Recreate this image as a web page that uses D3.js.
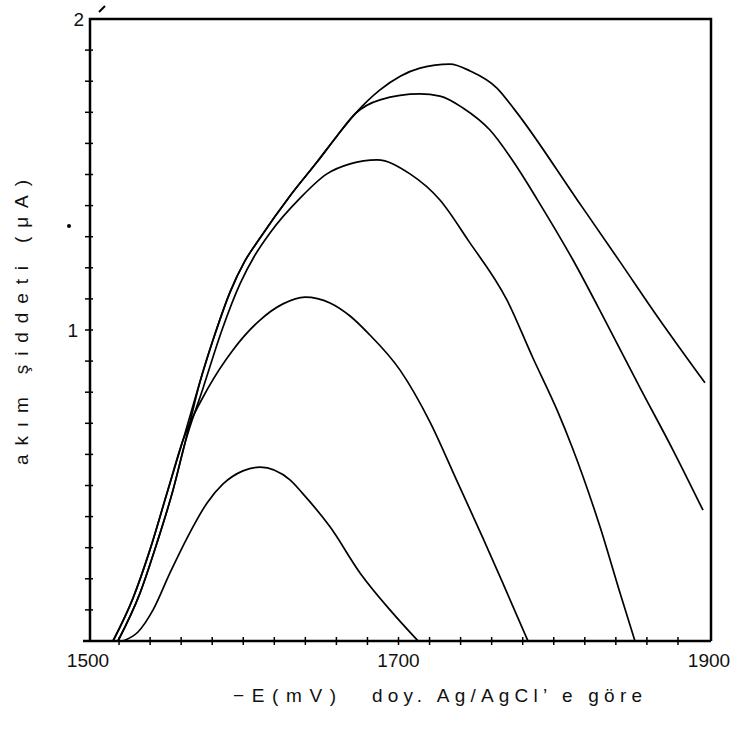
<!DOCTYPE html>
<html>
<head>
    <meta charset="UTF-8">
    <style>
        body { margin: 0; background: #fff; }
        text { font-family: "Liberation Sans", "DejaVu Sans", sans-serif; fill: #111; }
    </style>
</head>
<body>
    <svg id="chart"></svg>
    <script src="https://d3js.org/d3.v7.min.js"></script>
    <script>
        let width = 734, height = 748;

        // potential (-mV) and current (uA)
        const curveA = [[1516.1, 0], [1529.0, 0.138], [1539.9, 0.293], [1550.9, 0.476], [1561.2, 0.646], [1572.1, 0.833], [1581.8, 0.987], [1591.5, 1.122], [1601.1, 1.222], [1610.8, 1.296], [1630.1, 1.431], [1647.5, 1.540], [1660.4, 1.624], [1672.0, 1.695], [1688.1, 1.772], [1713.8, 1.842], [1733.2, 1.855], [1746.1, 1.833], [1763.4, 1.778], [1775.0, 1.707], [1815.6, 1.415], [1842.7, 1.219], [1866.5, 1.045], [1897.4, 0.830]];
        const curveB = [[1519.3, 0], [1533.5, 0.154], [1544.4, 0.315], [1554.8, 0.486], [1562.5, 0.637], [1572.1, 0.833], [1581.8, 0.987], [1591.5, 1.122], [1601.1, 1.222], [1610.8, 1.296], [1630.1, 1.431], [1647.5, 1.540], [1660.4, 1.624], [1672.0, 1.695], [1688.1, 1.740], [1713.8, 1.759], [1726.7, 1.752], [1741.5, 1.714], [1758.9, 1.643], [1776.3, 1.524], [1789.2, 1.421], [1812.4, 1.225], [1834.3, 1.019], [1855.6, 0.814], [1876.8, 0.614], [1896.1, 0.421]];
        const curveC = [[1519.3, 0], [1533.5, 0.154], [1544.4, 0.315], [1554.8, 0.486], [1562.5, 0.637], [1574.1, 0.813], [1586.3, 1.000], [1597.9, 1.148], [1607.6, 1.241], [1617.2, 1.312], [1636.6, 1.424], [1653.9, 1.502], [1668.8, 1.534], [1686.2, 1.547], [1707.4, 1.502], [1726.7, 1.418], [1744.8, 1.289], [1769.9, 1.096], [1786.6, 0.910], [1802.1, 0.743], [1811.8, 0.624], [1829.8, 0.367], [1842.7, 0.154], [1852.3, 0]];
        const curveD = [[1516.1, 0], [1529.0, 0.138], [1539.9, 0.293], [1550.9, 0.476], [1561.2, 0.646], [1577.3, 0.813], [1593.4, 0.936], [1610.8, 1.032], [1625.6, 1.084], [1639.8, 1.106], [1655.9, 1.087], [1668.8, 1.045], [1680.4, 0.990], [1701.0, 0.871], [1720.3, 0.704], [1737.7, 0.514], [1754.4, 0.331], [1768.6, 0.170], [1783.4, 0]];
        const curveE = [[1522.5, 0], [1532.2, 0.029], [1541.9, 0.100], [1552.8, 0.219], [1563.8, 0.331], [1576.7, 0.444], [1587.0, 0.505], [1599.8, 0.547], [1610.8, 0.559], [1630.1, 0.518], [1638.5, 0.473], [1655.9, 0.367], [1675.2, 0.219], [1694.5, 0.100], [1712.6, 0]];

        const xTickLabels = [1500, 1700, 1900];
        const yTickLabels = [1, 2];

        const xLabelLeft = "\u2212E(mV)";
        const xLabelRight = "doy. Ag/AgCl\u2019 e göre";
        const yLabel = "akım şiddeti (μA)";

        let svg = d3.select("#chart")
            .attr("width", width)
            .attr("height", height);

        const plotL = 90, plotR = 711, plotT = 19, plotB = 641;

        let x = d3.scaleLinear().domain([1500, 1900]).range([88, 709]);
        let y = d3.scaleLinear().domain([0, 2]).range([plotB, plotT]);

        // frame
        svg.append("path")
            .attr("d", `M${plotL},${plotB}V${plotT}H${plotR}V${plotB}`)
            .attr("fill", "none")
            .attr("stroke", "#000")
            .attr("stroke-width", 2.5);
        svg.append("line")
            .attr("x1", plotL - 7).attr("x2", plotR)
            .attr("y1", plotB).attr("y2", plotB)
            .attr("stroke", "#000").attr("stroke-width", 2.5);

        // minor ticks crossing the axes
        svg.append("g")
            .selectAll("line")
            .data(d3.range(1, 20).map(d => d / 10))
            .enter()
            .append("line")
            .attr("x1", plotL - 5).attr("x2", plotL + 3)
            .attr("y1", d => y(d)).attr("y2", d => y(d))
            .attr("stroke", "#000").attr("stroke-width", 1.5);

        svg.append("g")
            .selectAll("line")
            .data(d3.range(1520, 1900, 20))
            .enter()
            .append("line")
            .attr("x1", d => x(d)).attr("x2", d => x(d))
            .attr("y1", plotB - 4).attr("y2", plotB + 4)
            .attr("stroke", "#000").attr("stroke-width", 1.5);

        // tick labels
        svg.append("g")
            .selectAll("text")
            .data(xTickLabels)
            .enter()
            .append("text")
            .attr("x", d => x(d))
            .attr("y", 667)
            .attr("text-anchor", "middle")
            .attr("font-size", 19)
            .text(d => d);

        svg.append("g")
            .selectAll("text")
            .data(yTickLabels)
            .enter()
            .append("text")
            .attr("x", d => d == 2 ? 84 : 78)
            .attr("y", d => y(d) + 7)
            .attr("text-anchor", "end")
            .attr("font-size", 19)
            .text(d => d);

        // axis titles
        svg.append("text")
            .attr("x", 233).attr("y", 702)
            .attr("font-size", 19)
            .attr("textLength", 103)
            .attr("lengthAdjust", "spacing")
            .text(xLabelLeft);
        svg.append("text")
            .attr("x", 372).attr("y", 702)
            .attr("font-size", 19)
            .attr("textLength", 270)
            .attr("lengthAdjust", "spacing")
            .text(xLabelRight);

        svg.append("text")
            .attr("transform", "translate(28,465) rotate(-90)")
            .attr("font-size", 19)
            .attr("textLength", 285)
            .attr("lengthAdjust", "spacing")
            .text(yLabel);

        // scan specks
        svg.append("circle").attr("cx", 69).attr("cy", 226).attr("r", 2).attr("fill", "#000");
        svg.append("path").attr("d", "M99,12L105,6").attr("stroke", "#000").attr("stroke-width", 2);

        // curves
        let line = d3.line()
            .x(d => x(d[0]))
            .y(d => y(d[1]))
            .curve(d3.curveMonotoneX);

        svg.append("g")
            .selectAll("path")
            .data([curveA, curveB, curveC, curveD, curveE])
            .enter()
            .append("path")
            .attr("d", line)
            .attr("fill", "none")
            .attr("stroke", "#000")
            .attr("stroke-width", 1.7);
    </script>
</body>
</html>
